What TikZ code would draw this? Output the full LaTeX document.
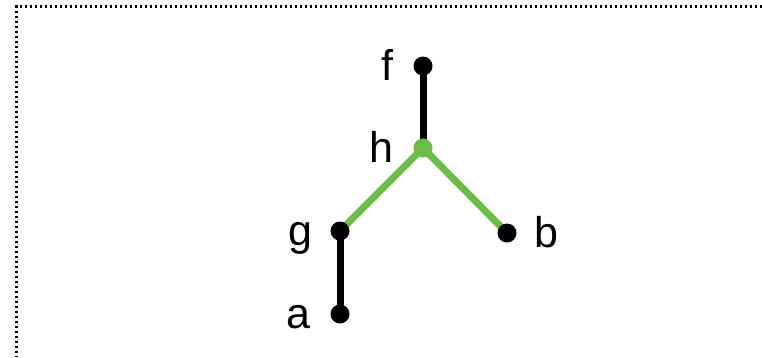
\documentclass[tikz,border=0pt]{standalone}
\usepackage{fontspec}
\setmainfont{Liberation Sans}
\usetikzlibrary{positioning,backgrounds}
\definecolor{cgreen}{RGB}{106,189,69}
\tikzset{
  vert/.style={circle,fill=black,draw=none,inner sep=0pt,minimum size=19pt},
  hub/.style={vert,fill=cgreen},
  lab/.style={font=\fontsize{43}{43}\selectfont,inner sep=0pt,
    text height=30pt,text depth=2pt},
  edge/.style={line width=7pt},
  gedge/.style={edge,draw=cgreen},
  frame/.style={line width=2.2pt,dash pattern=on 2.2pt off 2.8pt}
}

\begin{document}
\begin{tikzpicture}[x=1pt,y=-1pt]
  \useasboundingbox (0,0) rectangle (762,357);
  % dotted frame, only top and left edges show
  \draw[frame] (762,6.5) -- (16.5,6.5) -- (16.5,357);
  \node[vert,label={[lab,label distance=20pt]left:f}] (f) at (423,66) {};
  \node[hub,label={[lab,label distance=20pt]left:h}] (h) at (423,148) {};
  \node[vert,label={[lab,label distance=18pt]left:g}] (g) at (340,231) {};
  \node[vert,label={[lab,label distance=18pt]right:b}] (b) at (507,233) {};
  \node[vert,label={[lab,label distance=20pt]left:a}] (a) at (340,314) {};
  \begin{scope}[on background layer]
    \draw[edge] (f.center) -- (h.center);
    \draw[gedge] (h.center) -- (g.center);
    \draw[gedge] (h.center) -- (b.center);
    \draw[edge] (g.center) -- (a.center);
  \end{scope}
\end{tikzpicture}
\end{document}
